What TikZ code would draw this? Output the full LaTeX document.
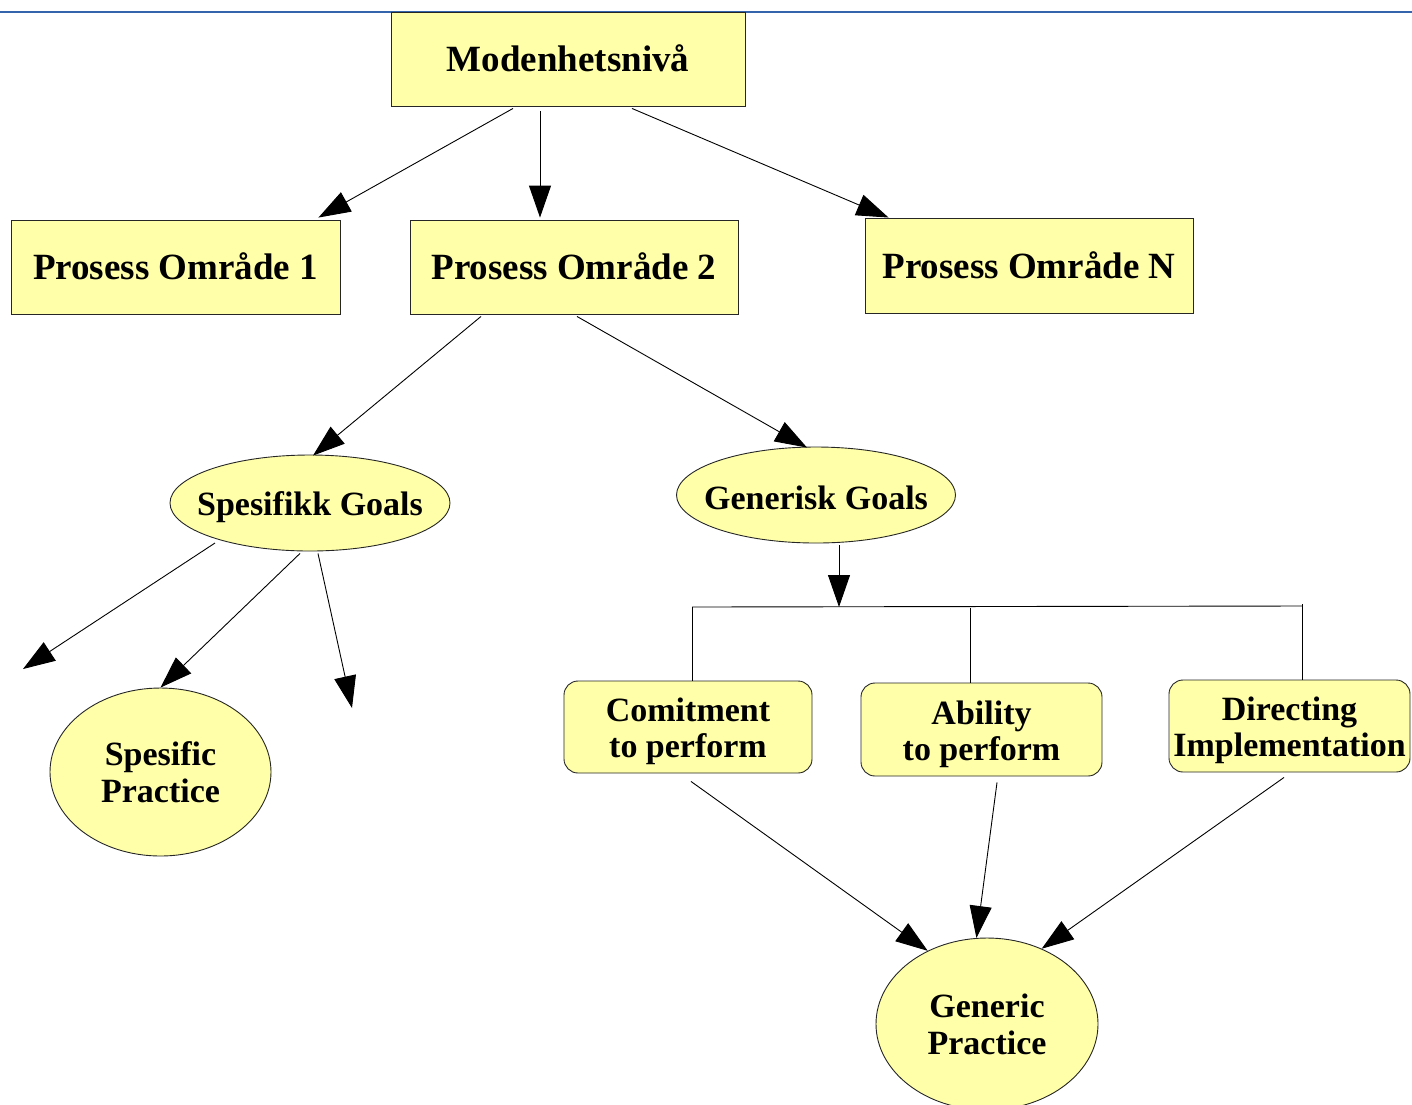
\documentclass[tikz,border=0pt]{standalone}
\usepackage{fontspec}
\setmainfont{Liberation Serif}
\usetikzlibrary{shapes.geometric,arrows.meta}

\definecolor{paleyellow}{RGB}{255,255,170}
\definecolor{rulerblue}{RGB}{52,101,172}

\tikzset{
  every node/.style={font=\bfseries},
  box/.style={draw=black!85, fill=paleyellow, rectangle, inner sep=0pt,
    line width=0.9pt, align=center},
  bigbox/.style={box, font=\fontsize{37}{40}\selectfont\bfseries,
    text height=31pt, text depth=6pt},
  roundbox/.style={box, rounded corners=14pt},
  oval/.style={draw=black!85, fill=paleyellow, ellipse, inner sep=0pt,
    line width=0.9pt},
  ovaltext/.style={align=center, font=\fontsize{34}{37}\selectfont\bfseries},
  boxtext/.style={align=center, font=\fontsize{34}{36}\selectfont\bfseries,
    yshift=-4.5pt},
  link/.style={line width=0.9pt, -{Triangle[length=32pt,width=22pt]}},
  wire/.style={line width=0.9pt},
}

\begin{document}
\begin{tikzpicture}[x=1pt,y=1pt]
\useasboundingbox (0,0) rectangle (1412,-1104);
\clip (0,0) rectangle (1412,-1104);

% header rule
\draw[rulerblue, line width=2pt] (0,-12) -- (1412,-12);

% maturity level and process areas
\node[bigbox, minimum width=354pt, minimum height=94pt] (top) at (568,-59) {Modenhetsnivå};
\node[bigbox, minimum width=329pt, minimum height=94pt] (po1) at (175.5,-267) {Prosess Område 1};
\node[bigbox, minimum width=328pt, minimum height=94pt] (po2) at (574,-267) {Prosess Område 2};
\node[bigbox, minimum width=328pt, minimum height=95pt] (pon) at (1029,-265.5) {Prosess Område N};

% goals
\node[oval, minimum width=280pt, minimum height=96pt,
  label={[ovaltext, yshift=-4pt]center:Spesifikk Goals}] (sg) at (310,-503) {};
\node[oval, minimum width=279pt, minimum height=96pt,
  label={[ovaltext, yshift=-3pt]center:Generisk Goals}] (gg) at (816,-495) {};

% practices
\node[oval, minimum width=221pt, minimum height=168pt,
  label={[ovaltext]center:Spesific\\Practice}] (sp) at (160.5,-772) {};
\node[oval, minimum width=222pt, minimum height=172pt,
  label={[ovaltext]center:Generic\\Practice}] (gp) at (987,-1024) {};

% common features
\node[roundbox, minimum width=248pt, minimum height=92pt,
  label={[boxtext]center:Comitment\\to perform}] (cm) at (688,-727) {};
\node[roundbox, minimum width=241pt, minimum height=93pt,
  label={[boxtext]center:Ability\\to perform}] (ab) at (981.5,-729.5) {};
\node[roundbox, minimum width=241pt, minimum height=92pt,
  label={[boxtext]center:Directing\\Implementation}] (dr) at (1289.5,-726) {};

% loose ends and bus points
\coordinate (freeL) at (23,-669);
\coordinate (freeR) at (352,-708);
\coordinate (busL) at (692,-607);
\coordinate (busM) at (839,-607);
\coordinate (busA) at (970,-608);
\coordinate (busR) at (1302,-606);

% maturity level to process areas
\draw[link] ([xshift=-55pt,yshift=-2pt]top.south) -- ([xshift=-22pt,yshift=2pt]po1.north east);
\draw[link] ([xshift=-28pt,yshift=-5pt]top.south) -- ([xshift=-34pt,yshift=2pt]po2.north);
\draw[link] ([xshift=64pt,yshift=-2pt]top.south) -- ([xshift=24pt]pon.north west);

% process area 2 to goals
\draw[link] ([xshift=-93pt,yshift=-2pt]po2.south) -- ([xshift=3pt,yshift=-1pt]sg.north);
\draw[link] ([xshift=3pt,yshift=-2pt]po2.south) -- ([xshift=-9pt,yshift=-1pt]gg.north);

% specific goals
\draw[link] ([xshift=-95pt,yshift=-40pt]sg.center) -- (freeL);
\draw[link] ([xshift=-10pt,yshift=-2pt]sg.south) -- (sp.north);
\draw[link] ([xshift=8pt,yshift=-2pt]sg.south) -- (freeR);

% generic goals to common features
\draw[link] ([xshift=23pt,yshift=-2pt]gg.south) -- (busM);
\draw[wire] (busL) -- (busR);
\draw[wire] (busR) -- ++(0,2);
\draw[wire] (busL) -- (busL |- cm.north);
\draw[wire] (busA) -- (busA |- ab.north);
\draw[wire] (busR) -- (busR |- dr.north);

% common features to generic practice
\draw[link] ([xshift=3pt,yshift=-8pt]cm.south) -- (gp.129);
\draw[link] ([xshift=15.5pt,yshift=-6pt]ab.south) -- (gp.97);
\draw[link] ([xshift=-5.5pt,yshift=-5pt]dr.south) -- (gp.54);
\end{tikzpicture}
\end{document}
